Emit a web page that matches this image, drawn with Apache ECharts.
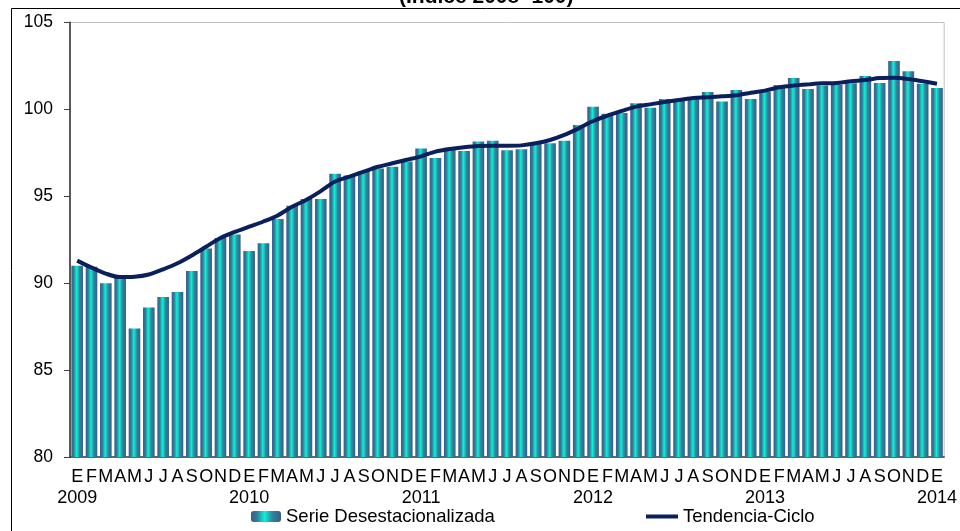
<!DOCTYPE html>
<html>
<head>
<meta charset="utf-8">
<title>Serie desestacionalizada y tendencia-ciclo</title>
<script src="https://cdn.jsdelivr.net/npm/echarts@6/dist/echarts.min.js"></script>
<style>
  html, body { margin: 0; padding: 0; background: #fff; }
  #chart { width: 960px; height: 531px; }
</style>
</head>
<body>
<div id="chart"></div>
<script>
// meses y años del eje
const meses = ['E', 'F', 'M', 'A', 'M', 'J', 'J', 'A', 'S', 'O', 'N', 'D'];
const anios = ['2009', '2010', '2011', '2012', '2013', '2014'];

// Serie desestacionalizada (ene 2009 - ene 2014)
const serieDesest = [
  91.0, 90.95, 90.0, 90.3, 87.4, 88.6, 89.2, 89.5, 90.7, 92.0, 92.6, 92.8,
  91.85, 92.3, 93.7, 94.45, 94.85, 94.85, 96.3, 96.2, 96.45, 96.6, 96.7, 97.0,
  97.75, 97.2, 97.8, 97.6, 98.15, 98.2, 97.65, 97.7, 98.1, 98.05, 98.2, 99.1,
  100.15, 99.75, 99.8, 100.35, 100.1, 100.6, 100.5, 100.7, 101.0, 100.45, 101.12, 100.6,
  101.0, 101.4, 101.8, 101.17, 101.38, 101.4, 101.5, 101.92, 101.52, 102.78, 102.2, 101.48,
  101.23
];

// Tendencia-ciclo
const tendencia = [
  91.3, 90.9, 90.55, 90.35, 90.37, 90.5, 90.8, 91.15, 91.6, 92.1, 92.6, 92.95,
  93.25, 93.55, 93.9, 94.4, 94.8, 95.3, 95.85, 96.13, 96.42, 96.7, 96.9, 97.1,
  97.3, 97.57, 97.72, 97.82, 97.89, 97.91, 97.91, 97.93, 98.05, 98.24, 98.53, 98.91,
  99.33, 99.64, 99.91, 100.16, 100.29, 100.43, 100.54, 100.66, 100.7, 100.75, 100.82, 100.96,
  101.08, 101.27, 101.37, 101.44, 101.5, 101.52, 101.62, 101.69, 101.8, 101.82, 101.75, 101.62,
  101.48
];

// etiquetas: letra del mes, y el año debajo de enero
const categorias = serieDesest.map(function (v, i) {
  const m = meses[i % 12];
  return i % 12 === 0 ? m + '\n' + anios[i / 12] : m;
});

const fuente = 'Liberation Sans, Arial, sans-serif';

const degradado = new echarts.graphic.LinearGradient(0, 0, 1, 0, [
  { offset: 0, color: '#3b5c8e' },
  { offset: 0.2, color: '#2f7c98' },
  { offset: 0.45, color: '#0ff0d6' },
  { offset: 0.7, color: '#2b8a9e' },
  { offset: 1, color: '#3a5a8a' }
]);

const chart = echarts.init(document.getElementById('chart'));

chart.setOption({
  animation: false,
  textStyle: { fontFamily: fuente, color: '#000' },
  title: {
    text: '(Índice 2008=100)',
    left: 394,
    top: -18,
    textStyle: { fontSize: 21, fontWeight: 'bold', color: '#000', fontFamily: fuente }
  },
  graphic: [{
    type: 'rect',
    silent: true,
    z: -1,
    shape: { x: 11.5, y: 8.5, width: 960, height: 540 },
    style: { fill: 'none', stroke: '#000', lineWidth: 1 }
  }],
  grid: {
    left: 70, right: 14, top: 22.5, bottom: 74,
    show: true, borderColor: '#c0c0c0', borderWidth: 1
  },
  legend: [
    {
      data: ['Serie Desestacionalizada'],
      left: 251, top: 507, padding: 0,
      itemWidth: 30, itemHeight: 11,
      textStyle: { fontSize: 18.5, color: '#000', fontFamily: fuente }
    },
    {
      data: [{ name: 'Tendencia-Ciclo', icon: 'rect' }],
      left: 646, top: 507, padding: 0,
      itemWidth: 32, itemHeight: 4,
      textStyle: { fontSize: 18.5, color: '#000', fontFamily: fuente }
    }
  ],
  xAxis: {
    type: 'category',
    data: categorias,
    axisLine: { lineStyle: { color: '#404040', width: 1.5 } },
    axisTick: {
      length: 5,
      interval: function (i) { return i % 12 === 0; },
      lineStyle: { color: '#404040' }
    },
    axisLabel: {
      interval: 0,
      fontSize: 18,
      lineHeight: 21,
      margin: 10,
      color: '#000',
      fontFamily: fuente
    }
  },
  yAxis: {
    type: 'value',
    min: 80,
    max: 105,
    interval: 5,
    splitLine: { show: false },
    axisLine: { show: true, lineStyle: { color: '#595959', width: 2 } },
    axisTick: { show: true, length: 6, lineStyle: { color: '#404040' } },
    axisLabel: { fontSize: 17.5, margin: 17, color: '#000', fontFamily: fuente }
  },
  series: [
    {
      name: 'Serie Desestacionalizada',
      type: 'bar',
      data: serieDesest,
      barCategoryGap: '19%',
      itemStyle: { color: degradado }
    },
    {
      name: 'Tendencia-Ciclo',
      type: 'line',
      data: tendencia,
      smooth: 0.3,
      symbol: 'none',
      z: 3,
      itemStyle: { color: '#0a1f5c' },
      lineStyle: { color: '#0a1f5c', width: 4 }
    }
  ]
});
</script>
</body>
</html>
